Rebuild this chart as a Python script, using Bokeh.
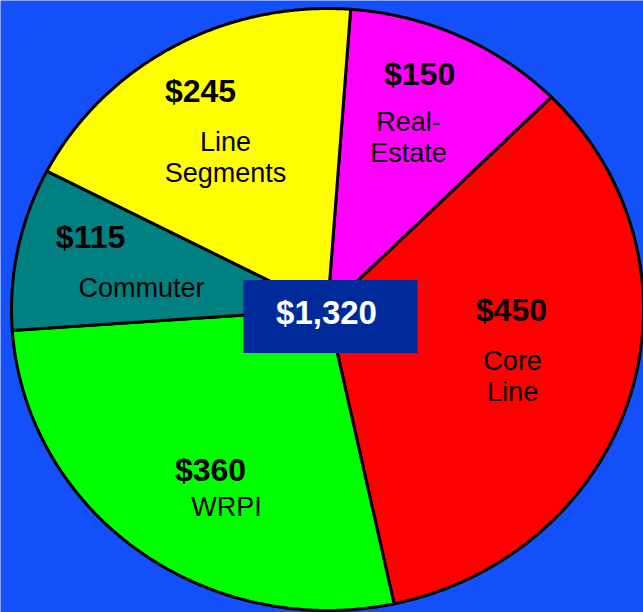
import numpy as np
from bokeh.plotting import figure
from bokeh.models import Range1d, ColumnDataSource
from bokeh.core.properties import value
from bokeh.embed import file_html
from bokeh.resources import INLINE

# ---- data (clockwise from 12 o'clock) ----
categories = ["Real-Estate", "Core Line", "WRPI", "Commuter", "Line Segments"]
label_lines = [["Real-", "Estate"], ["Core", "Line"], ["WRPI"], ["Commuter"], ["Line", "Segments"]]
amounts = [150, 450, 360, 115, 245]
colors = ["#FF00FF", "#FF0000", "#00FF00", "#008080", "#FFFF00"]

# ---- layout / style ----
BG = "#1450FA"
W, H = 643, 612
CX, CY = 327, 309          # pie centre in pixels
RX, RY = 316, 301          # pie radii in pixels (slightly elliptical)
START_DEG = 4.2            # first slice starts this far clockwise from 12 o'clock
# label placement: (angle nudge from slice middle in degrees, radius fraction)
VALUE_POS = [(-4.25, 0.836), (-16.2, 0.582), (-2.1, 0.648), (6.0, 0.787), (0.3, 0.831)]
NAME_POS = [(-0.45, 0.626), (4.4, 0.627), (-11.0, 0.731), (-4.9, 0.593), (-3.4, 0.599)]
LINE_PITCH = 31

p = figure(width=W, height=H,
           x_range=Range1d(-CX / RX, (W - CX) / RX),
           y_range=Range1d(-(H - CY) / RY, CY / RY),
           output_backend="svg", toolbar_location=None,
           x_axis_type=None, y_axis_type=None, min_border=0,
           background_fill_color=BG, border_fill_color=BG,
           outline_line_color=None)
p.grid.visible = False

total = sum(amounts)
fr = np.array(amounts) / total
cum = np.concatenate([[0], np.cumsum(fr)])

xs, ys, mids = [], [], []
for i in range(len(amounts)):
    a0 = START_DEG + cum[i] * 360
    a1 = START_DEG + cum[i + 1] * 360
    t = np.radians(np.linspace(a0, a1, 240))
    xs.append([0.0] + list(np.sin(t)))
    ys.append([0.0] + list(np.cos(t)))
    mids.append((a0 + a1) / 2)

src = ColumnDataSource(dict(xs=xs, ys=ys, color=colors, cat=categories))
p.patches("xs", "ys", source=src, fill_color="color", line_color="black",
          line_width=3, line_join="miter")

# value labels
vx, vy, vt = [], [], []
nx, ny, nt, no = [], [], [], []
for i in range(len(amounts)):
    da, r = VALUE_POS[i]
    th = np.radians(mids[i] + da)
    vx.append(r * np.sin(th)); vy.append(r * np.cos(th)); vt.append(f"${amounts[i]}")
    da, r = NAME_POS[i]
    th = np.radians(mids[i] + da)
    lines = label_lines[i]
    n = len(lines)
    for j, ln in enumerate(lines):
        nx.append(r * np.sin(th)); ny.append(r * np.cos(th)); nt.append(ln)
        no.append((j - (n - 1) / 2) * LINE_PITCH)

p.text(x=vx, y=vy, text=vt, text_font=value("Liberation Sans"),
       text_font_style="bold", text_font_size="32px", text_align="center",
       text_baseline="middle", text_color="black")
p.text("x", "y", text="t", y_offset="o", source=ColumnDataSource(dict(x=nx, y=ny, t=nt, o=no)),
       text_font=value("Liberation Sans"), text_font_size="27px", text_align="center",
       text_baseline="middle", text_color="black")

# centre total box
p.rect(x=[3 / RX], y=[-7 / RY], width=174, height=73, width_units="screen", height_units="screen",
       fill_color="#002A9A", line_color=None)
p.text(x=[0.0], y=[0.0], text=[f"${total:,}"], x_offset=-1, y_offset=3, text_font=value("Liberation Sans"),
       text_font_style="bold", text_font_size="33px", text_align="center",
       text_baseline="middle", text_color="white")

open("out.html", "w").write(file_html(p, INLINE))
